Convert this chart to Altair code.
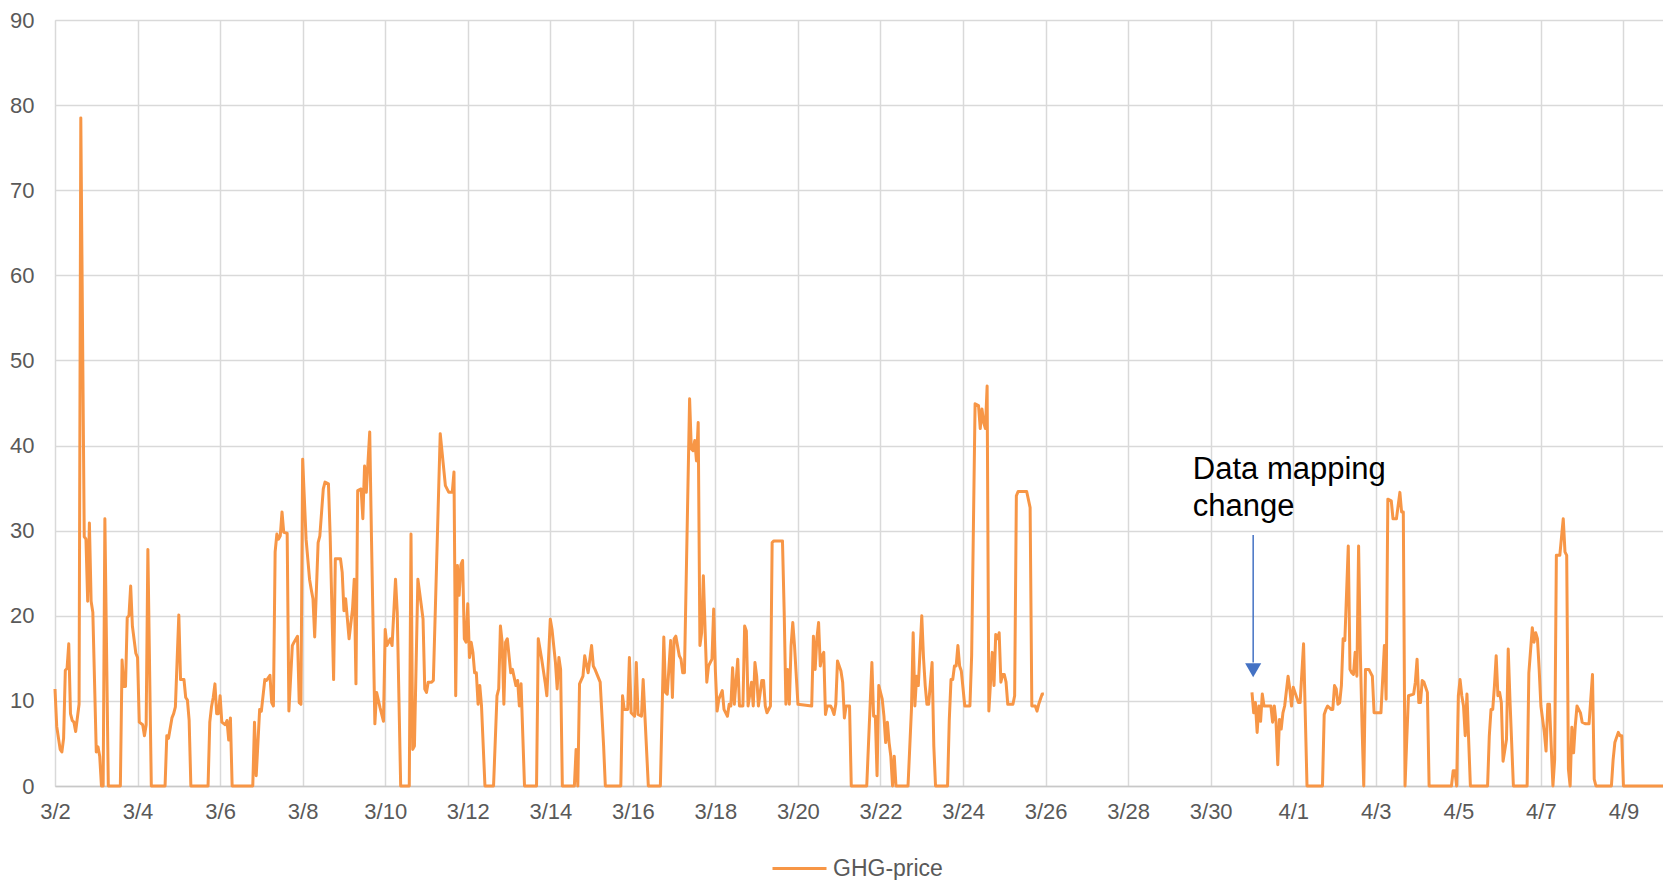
import altair as alt
import pandas as pd

series_name = "GHG-price"

# Hours since 3/2 00:00, and GHG-price values (segment before the data gap)
hours_a = [0, 1, 3, 4, 5, 6, 7, 8, 9, 10, 11, 12, 14, 15, 17, 18, 19, 20, 21, 22, 24, 25, 26, 27, 28, 29, 31, 38,
           39, 40, 41, 42, 43, 44, 45, 47, 48, 49, 51, 52, 53, 54, 56, 64, 65, 66, 68, 69, 70, 72, 73, 75, 76, 77, 78, 79,
           89, 90, 91, 92, 93, 94, 95, 96, 97, 99, 100, 101, 102, 103, 115,
           116, 117, 119, 120, 122, 123, 125, 126, 127, 128, 129, 130, 131, 132, 133, 135, 136, 138, 139, 141, 142, 143,
           144, 146, 148, 149, 150, 151, 153, 154, 156, 157, 159, 160, 162, 163, 166, 167, 168, 169, 171, 173, 174, 175,
           176, 178, 179, 180, 181, 183, 184, 186, 187, 189, 191, 192, 193, 195, 196, 198, 199, 201, 206, 207, 208, 209,
           211, 213, 214, 215, 216, 217, 219, 220, 224, 227, 229, 231, 232, 233, 234, 235, 236, 237, 238, 239, 240, 241,
           242, 243, 244, 245, 246, 247, 248, 250, 255, 257, 258, 259, 260, 261, 262, 263, 265, 266, 268, 269, 270, 271,
           273, 280, 281, 283, 285, 286, 288, 289, 291, 292, 293, 294, 295, 302, 303, 304, 305, 307, 308, 310, 312, 313,
           314, 316, 317, 319, 320, 329, 330, 331, 333, 334, 335, 337, 338, 339, 341, 342, 345, 352, 354, 355, 356, 358,
           359, 360, 361, 363, 364, 365, 366, 369, 370, 371, 372, 373, 374, 375, 376, 377, 378, 379, 380, 382, 383, 384,
           385, 386, 388, 389, 390, 391, 392, 393, 394, 395, 397, 398, 400, 401, 402, 403, 405, 406, 407, 408, 409, 411,
           412, 413, 414, 416, 417, 418, 423, 424, 425, 426, 427, 428, 429, 430, 432, 440, 441, 442, 443, 444, 445, 446,
           447, 448, 449, 451, 452, 453, 454, 455, 457, 458, 459, 460, 462, 463, 472, 475, 476, 477, 478, 479, 481, 482,
           483, 484, 485, 486, 487, 488, 489, 496, 498, 499, 500, 501, 502, 504, 505, 506, 507, 508, 510, 511, 512, 519,
           520, 521, 522, 523, 524, 525, 526, 527, 529, 530, 532, 533, 535, 537, 538, 539, 540, 541, 542, 543, 545, 546,
           547, 548, 549, 550, 551, 552, 553, 554, 557, 558, 559, 560, 565, 567, 568, 570, 571, 572, 574, 575]
values_a = [11.4, 7, 4.3, 4, 5.6, 13.6, 13.8, 16.7, 8.5, 7.7, 7.5, 6.4, 9.6, 78.5, 29.3, 29, 21.7, 30.9, 21.7, 20.4, 4, 4.6, 3.5, 0, 0, 31.4, 0, 0,
            14.8, 11.7, 11.7, 19.8, 20, 23.5, 18.8, 15.6, 15.1, 7.5, 7.2, 5.9, 7.2, 27.8, 0, 0, 5.9, 5.6, 8, 8.5, 9.3, 20.1, 12.5, 12.5, 10.4, 10.1, 7.7, 0,
            0, 7.5, 9.3, 10.4, 12, 8.5, 8.5, 10.6, 7.5, 7.2, 7.7, 5.4, 8, 0, 0,
            7.5, 1.2, 9.0, 8.8, 12.5, 12.4, 13, 9.8, 9.4, 27.5, 29.6, 29, 29.4, 32.2, 29.8, 29.7, 8.8, 16.5, 16.9, 17.6, 9.8, 9.6,
            38.4, 29, 24.3, 23.1, 22, 17.5, 28.6, 29.4, 34.9, 35.7, 35.5, 29.4, 12.5, 26.7, 26.7, 25.1, 20.6, 22, 17.3, 20.8, 24.3, 12,
            34.7, 34.9, 31.4, 37.6, 34.5, 41.6, 29.4, 7.3, 11, 9.2, 7.6, 18.4, 16.5, 17.3, 16.5, 24.3, 20.4, 0, 0, 29.6, 4.3, 4.7,
            24.3, 21.2, 19.6, 11.4, 11, 12.2, 12.2, 12.4, 41.4, 35.3, 34.5, 34.5, 36.9, 10.6, 25.9, 22.4, 26, 26.5, 17.3, 16.9, 21.4, 15.1,
            16.9, 15.7, 13.3, 13.3, 9.6, 11.8, 9.4, 0, 0, 10.6, 11.4, 18.8, 16.9, 9.6, 16.9, 17.3, 13.3, 13.7, 11.8, 12.4, 9.4, 12,
            0, 0, 17.3, 14.9, 12.2, 10.6, 19.6, 18.4, 14.5, 11.4, 15.1, 13.7, 0, 0, 4.3, 0, 12, 12.9, 15.3, 13.3, 16.5, 14.1,
            13.7, 12.7, 12.2, 4.7, 0, 0, 10.6, 9, 9, 15.1, 8.6, 8.2, 14.5, 8.4, 8.2, 12.5, 0, 0, 17.5, 11, 10.8, 17.1,
            10.4, 17.3, 17.6, 15.3, 14.9, 13.3, 13.3, 45.5, 39.6, 39.4, 40.6, 38.2, 42.7, 16.5, 18, 24.7, 18.4, 12.2, 14.1, 14.9, 20.8, 13.5,
            8.8, 10.2, 11.2, 9, 8.6, 8.2, 9.6, 9.4, 13.9, 9.6, 14.9, 9.4, 9.4, 18.8, 18.2, 9.4, 12.2, 9.4, 14.5, 12.9, 9.4, 12.4,
            12.4, 9.4, 8.6, 9.4, 28.6, 28.8, 28.8, 20.4, 9.6, 13.7, 9.6, 16.5, 19.2, 16.5, 9.6, 9.4, 17.6, 13.7, 17.3, 19.2, 14.1, 15.3,
            15.7, 8.4, 9.4, 9.4, 9, 8.4, 9.6, 14.7, 13.5, 12.2, 8, 9.4, 9.4, 0, 0, 14.5, 8.2, 8.2, 1.2, 11.8, 10.2, 8.2,
            5.1, 7.5, 5.1, 3.5, 0, 3.5, 0, 0, 9, 18, 9.4, 12.9, 11.8, 20, 15.1, 11.8, 9.6, 9.6, 14.5, 4.7, 0, 0,
            7.8, 12.5, 12.5, 14.1, 14.1, 16.5, 14.1, 13.5, 9.4, 9.4, 9.4, 15.3, 44.9, 44.7, 42, 44.3, 42.7, 42, 47, 8.8, 15.7, 11.8,
            17.8, 17.3, 18, 12.2, 13.1, 13.1, 12.2, 9.6, 9.6, 10.6, 34.1, 34.6, 34.6, 32.7, 9.4, 9.4, 8.8, 9.6, 10.8, 10.8]

# Segment after the data mapping change
hours_b = [696, 697, 698, 699, 700, 701, 702, 703, 706, 707, 708, 709, 710, 711, 712, 713, 714, 715, 717, 718, 719, 720,
           721, 723, 724, 726, 728, 737, 738, 739, 740, 742, 743, 744, 745, 746, 747, 748, 749, 750, 752, 753, 754, 755,
           756, 757, 758, 759, 760, 761, 762, 764, 765, 766, 767, 771, 773, 774, 775, 777, 778, 780, 782, 783, 784, 785,
           786, 787, 790, 791, 792, 793, 794, 795, 796, 798, 799, 812, 813, 814, 815, 816, 817, 818, 819, 820, 821, 823,
           833, 834, 835, 836, 837, 838, 839, 840, 841, 842, 844, 845, 846, 848, 856, 857, 859, 860, 861, 862, 863, 864,
           866, 867, 868, 869, 870, 871, 872, 873, 875, 877, 878, 879, 880, 881, 882, 883, 884, 885, 887, 888, 890, 891,
           892, 894, 895, 896, 905, 906, 907, 909, 910, 911, 912, 935]
values_b = [11, 8.6, 9.8, 6.3, 9.4, 7.6, 10.8, 9.4, 9.4, 9.4, 7.5, 9.4, 7.5, 2.5, 7.8, 6.7, 8.6, 9.4, 12.9, 11.4, 9.4, 11.6,
            11, 9.8, 9.8, 16.7, 0, 0, 8.4, 9, 9.4, 9, 9, 11.8, 11.4, 9.6, 9.8, 11.8, 17.3, 17.1, 28.2, 13.7, 13.3, 13.1,
            15.7, 12.9, 28.2, 15.7, 7.1, 0, 13.7, 13.7, 13.3, 12.9, 8.6, 8.6, 16.5, 10.2, 33.7, 33.5, 31.4, 31.4, 34.5, 32.2, 32.2, 0,
            5.5, 10.6, 10.8, 12.2, 14.9, 9.8, 9.8, 12.4, 12.2, 11, 0, 0, 1.8, 1.8, 0, 10.6, 12.5, 10.6, 9.4, 5.9, 10.8, 0,
            0, 5.9, 9, 9, 11.8, 15.3, 10.6, 11, 9.8, 2.9, 5.5, 16.1, 10.2, 0, 0, 13.3, 18.6, 16.9, 18, 17.3, 13.7, 9.4,
            6.3, 4.1, 9.6, 9.6, 4.7, 0, 3.1, 27.1, 27.1, 31.4, 27.5, 27.1, 2, 0, 6.9, 3.9, 7.1, 9.4, 8.6, 7.5, 7.3, 7.3,
            7.3, 13.1, 0.8, 0, 0, 3.1, 5.1, 6.3, 5.9, 5.9, 0, 0]

tick_labels = ["3/2", "3/4", "3/6", "3/8", "3/10", "3/12", "3/14", "3/16", "3/18", "3/20",
               "3/22", "3/24", "3/26", "3/28", "3/30", "4/1", "4/3", "4/5", "4/7", "4/9"]
tick_hours = [i * 48 for i in range(len(tick_labels))]
y_ticks = [0, 10, 20, 30, 40, 50, 60, 70, 80, 90]

annotation_text = ["Data mapping", "change"]

df = pd.concat([
    pd.DataFrame({"hour": hours_a, "value": values_a, "seg": "a"}),
    pd.DataFrame({"hour": hours_b, "value": values_b, "seg": "b"}),
])
df["series"] = series_name

FONT = "Liberation Sans"
GREY = "#595959"
GRID = "#d9d9d9"
ORANGE = "#F79646"
BLUE = "#4472C4"

label_expr = "[" + ",".join(f"'{l}'" for l in tick_labels) + "][round(datum.value/48)]"

x_scale = alt.Scale(domain=[0, 935], nice=False, zero=False)
y_scale = alt.Scale(domain=[0, 90], nice=False)

line = alt.Chart(df).mark_line(strokeWidth=3, strokeJoin="round").encode(
    x=alt.X("hour:Q", scale=x_scale,
            axis=alt.Axis(values=tick_hours, labelExpr=label_expr, title=None, grid=True,
                          gridColor=GRID, gridWidth=1.5, ticks=False, labelPadding=15,
                          labelFlush=False, labelOverlap=False,
                          labelFontSize=22, labelColor=GREY, labelFont=FONT,
                          domainColor="#c8c8c8", domainWidth=1.5)),
    y=alt.Y("value:Q", scale=y_scale,
            axis=alt.Axis(values=y_ticks, title=None, grid=True, gridColor=GRID, gridWidth=1.5,
                          ticks=False, domain=False, labelPadding=21, labelFontSize=22,
                          labelFlush=False, labelOverlap=False,
                          labelColor=GREY, labelFont=FONT)),
    color=alt.Color("series:N", scale=alt.Scale(domain=[series_name], range=[ORANGE]),
                    legend=alt.Legend(title=None, orient="none", legendX=716, legendY=820,
                                      symbolType="stroke", symbolSize=2916, symbolStrokeWidth=3,
                                      labelFontSize=23, labelColor=GREY, labelFont=FONT,
                                      labelOffset=5)),
    detail="seg:N",
)

ann_df = pd.DataFrame({"hour": [661.6], "value": [38.9], "txt": [annotation_text]})
text = alt.Chart(ann_df).mark_text(align="left", baseline="top", fontSize=31, font=FONT,
                                   color="#000000", lineHeight=37).encode(
    x=alt.X("hour:Q", scale=x_scale), y=alt.Y("value:Q", scale=y_scale), text="txt")

arrow_df = pd.DataFrame({"hour": [696.7], "top": [29.5], "bottom": [14.5], "head": [13.6]})
rule = alt.Chart(arrow_df).mark_rule(color=BLUE, strokeWidth=1.5).encode(
    x=alt.X("hour:Q", scale=x_scale), y=alt.Y("top:Q", scale=y_scale), y2="bottom:Q")
head = alt.Chart(arrow_df).mark_point(shape="triangle-down", filled=True, color=BLUE,
                                      size=260, opacity=1).encode(
    x=alt.X("hour:Q", scale=x_scale), y=alt.Y("head:Q", scale=y_scale))

chart = alt.layer(line, text, rule, head).properties(
    width=1608, height=766,
    autosize=alt.AutoSizeParams(type="none"),
    padding={"left": 47, "top": 12, "right": 0, "bottom": 94},
).configure_view(strokeWidth=0).configure(font=FONT)

chart.save("out.html", embed_options={"renderer": "svg", "actions": False})
